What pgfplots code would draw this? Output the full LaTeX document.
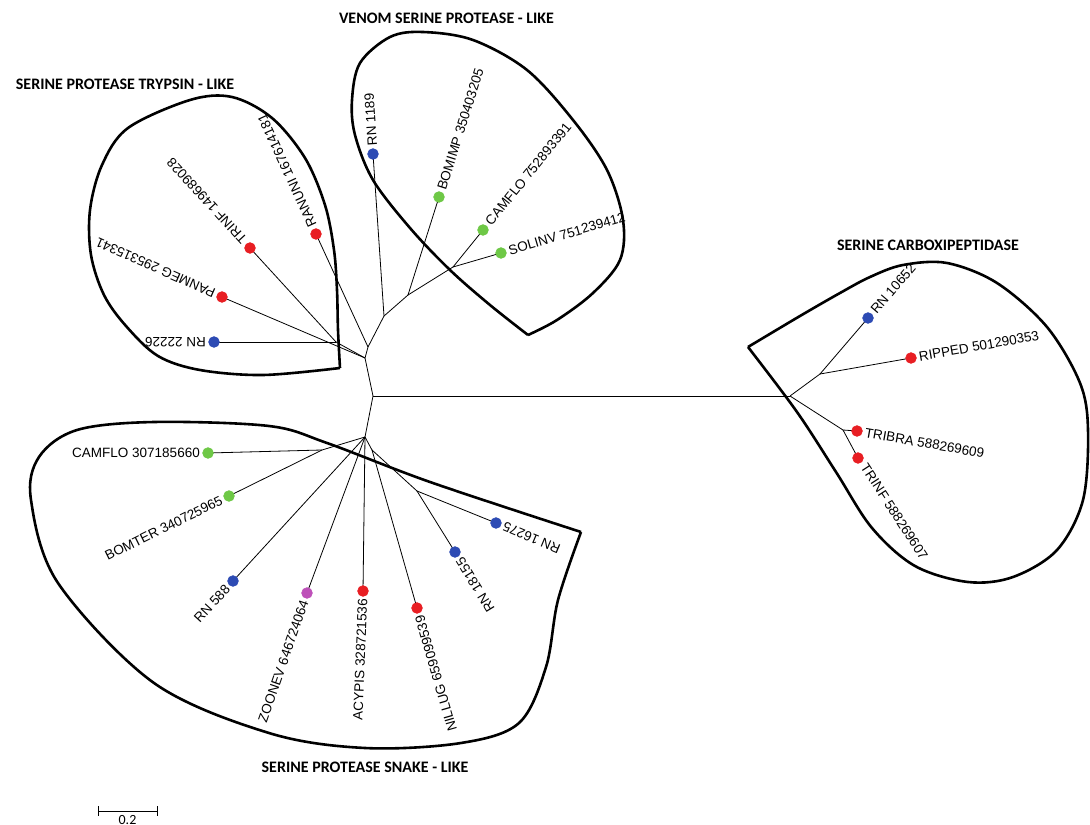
\documentclass[border=0pt]{standalone}
\usepackage{pgfplots}
\pgfplotsset{compat=1.18}
\usepackage{fontspec}
\setmainfont{Liberation Sans}
\newfontfamily\titlefont{Carlito}
\definecolor{dblue}{RGB}{45,75,180}
\definecolor{dred}{RGB}{232,30,35}
\definecolor{dgreen}{RGB}{110,200,70}
\definecolor{dmag}{RGB}{190,80,185}
\newcommand\edge[4]{\addplot[black, line width=0.8bp] coordinates {(#1,#2)(#3,#4)};}
\newcommand\lab[5]{\node[rotate=#3, anchor=#4, inner sep=0pt, font=\fontsize{13.5bp}{15bp}\selectfont] at (axis cs:#1,#2) {#5};}
\newcommand\ttl[3]{\node[font=\titlefont\bfseries\fontsize{16bp}{18bp}\selectfont] at (axis cs:#1,#2) {#3};}
\begin{document}
\begin{tikzpicture}
\useasboundingbox (0,0) rectangle (1090bp,825bp);
\begin{axis}[at={(0,0)}, anchor=south west, scale only axis, width=1090bp, height=825bp,
  xmin=0, xmax=1090, ymin=0, ymax=825, y dir=reverse, hide axis, clip=false]
% hulls
\addplot[black, line width=2.6bp, smooth, tension=0.55] coordinates {
 (340,368) (338,330) (337,290) (334,250) (325,205) (305,158) (272,118) (232,97) (190,100) (128,128) (102,165) (90,210) (91,255) (104,295) (126,326) (158,356) (200,370) (263,375) (340,368)};
\addplot[black, line width=2.6bp, smooth, tension=0.55] coordinates {
 (528,335) (490,305) (450,270) (410,228) (373,180) (355,135) (352,100) (360,63) (390,37) (423,32) (473,40) (527,70) (573,120) (607,170) (623,220) (620,260) (593,293) (557,320) (528,335)};
\addplot[black, line width=2.6bp, smooth, tension=0.55] coordinates {
 (581,532) (430,482) (327,443) (269,426) (154,422) (77,430) (39,457) (31,500) (58,583) (154,683) (269,733) (365,748) (461,743) (519,723) (546,667) (558,600) (581,532)};
\addplot[black, line width=2.6bp, smooth, tension=0.55] coordinates {
 (748,347) (800,316) (840,293) (870,277) (903,265) (947,263) (997,283) (1047,327) (1080,383) (1088,430) (1083,500) (1057,550) (1013,577) (968,582) (915,566) (872,528) (836,472) (797,412) (748,347)};
% spine
\edge{373}{396}{790}{396}
\edge{373}{396}{365}{358}
\edge{365}{358}{368}{347}
\edge{368}{347}{384}{316}
\edge{373}{396}{365}{437}
% trypsin
\edge{365}{358}{336}{342}
\edge{336}{342}{214}{342}
\edge{336}{342}{250}{248}
\edge{365}{358}{222}{297}
\edge{368}{347}{316}{234}
% venom
\edge{384}{316}{373}{154}
\edge{384}{316}{408}{295}
\edge{408}{295}{439}{197}
\edge{408}{295}{453}{267}
\edge{453}{267}{483}{230}
\edge{453}{267}{501}{253}
% carboxy
\edge{790}{396}{820}{374}
\edge{820}{374}{868}{318}
\edge{820}{374}{911}{358}
\edge{790}{396}{843}{430}
\edge{843}{430}{857}{431}
\edge{843}{430}{858}{458}
% snake
\edge{365}{437}{322}{450}
\edge{322}{450}{208}{453}
\edge{322}{450}{229}{496}
\edge{365}{437}{233}{581}
\edge{365}{437}{307}{593}
\edge{365}{437}{363}{591}
\edge{365}{437}{372}{450}
\edge{372}{450}{417}{608}
\edge{372}{450}{417}{491}
\edge{417}{491}{455}{552}
\edge{417}{491}{496}{523}
% dots
\addplot[only marks, mark=*, mark size=5.5, color=dblue] coordinates {(214,342)(373,154)(868,318)(233,581)(455,552)(496,523)};
\addplot[only marks, mark=*, mark size=5.5, color=dred] coordinates {(222,297)(250,248)(316,234)(911,358)(857,431)(858,458)(363,591)(417,608)};
\addplot[only marks, mark=*, mark size=5.5, color=dgreen] coordinates {(439,197)(483,230)(501,253)(208,453)(229,496)};
\addplot[only marks, mark=*, mark size=5.5, color=dmag] coordinates {(307,593)};
% labels
\lab{206}{342}{180}{west}{RN 22226}
\lab{214.7}{293.8}{156.3}{west}{PANMEG 295315341}
\lab{244.6}{242.1}{132.5}{west}{TRINF 149689028}
\lab{312.7}{226.7}{114.7}{west}{RANUNI 167614181}
\lab{372.5}{146}{93.9}{west}{RN 1189}
\lab{441.4}{189.4}{72.4}{west}{BOMIMP 350403205}
\lab{488}{223.8}{51}{west}{CAMFLO 752893391}
\lab{508.7}{250.8}{16.3}{west}{SOLINV 751239412}
\lab{873.2}{312}{49.4}{west}{RN 10652}
\lab{918.9}{356.6}{10}{west}{RIPPED 501290353}
\lab{864.9}{432.4}{-10}{west}{TRIBRA 588269609}
\lab{864}{465}{-57}{west}{TRINF 588269607}
\lab{200}{453}{0}{east}{CAMFLO 307185660}
\lab{221.8}{499.5}{26.3}{east}{BOMTER 340725965}
\lab{227.6}{586.9}{47.5}{east}{RN 588}
\lab{304.4}{600.5}{70.9}{east}{ZOONEV 646724064}
\lab{362.7}{599}{87.7}{east}{ACYPIS 328721536}
\lab{419.2}{615.7}{106.1}{east}{NILLUG 659099539}
\lab{459.2}{558.8}{121.5}{east}{RN 18155}
\lab{503.4}{526.1}{157.3}{east}{RN 16275}
% titles
\ttl{125}{84}{SERINE PROTEASE TRYPSIN - LIKE}
\ttl{446.5}{18}{VENOM SERINE PROTEASE - LIKE}
\ttl{928}{245}{SERINE CARBOXIPEPTIDASE}
\ttl{365}{767}{SERINE PROTEASE SNAKE - LIKE}
% scale bar
\addplot[black, line width=1bp] coordinates {(98,811)(157,811)};
\addplot[black, line width=1bp] coordinates {(98,806)(98,816)};
\addplot[black, line width=1bp] coordinates {(157,806)(157,816)};
\node[anchor=north, inner sep=0pt, font=\titlefont\fontsize{14bp}{16bp}\selectfont] at (axis cs:127.5,815) {0.2};
\end{axis}
\end{tikzpicture}
\end{document}
